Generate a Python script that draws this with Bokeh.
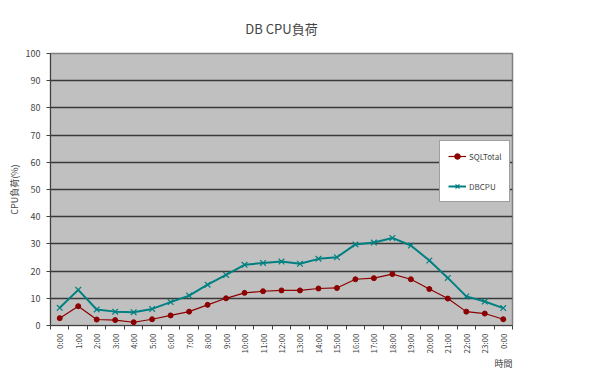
import math
from bokeh.plotting import figure
from bokeh.models import (Range1d, FixedTicker, Legend, LegendItem, Title, ColumnDataSource)
from bokeh.embed import file_html
from bokeh.resources import INLINE

hours = ["0:00", "1:00", "2:00", "3:00", "4:00", "5:00", "6:00", "7:00", "8:00", "9:00",
         "10:00", "11:00", "12:00", "13:00", "14:00", "15:00", "16:00", "17:00", "18:00",
         "19:00", "20:00", "21:00", "22:00", "23:00", "0:00"]
sql_total = [2.7, 7.1, 2.2, 2.0, 1.2, 2.3, 3.7, 5.1, 7.6, 10.0, 12.0, 12.6, 12.9, 12.9, 13.6,
             13.8, 17.0, 17.4, 18.9, 17.0, 13.4, 9.9, 5.1, 4.4, 2.3]
db_cpu = [6.5, 13.1, 5.9, 5.1, 4.9, 6.1, 8.6, 11.0, 15.0, 18.6, 22.3, 23.0, 23.5, 22.7, 24.5,
          25.1, 29.8, 30.5, 32.2, 29.4, 23.9, 17.5, 10.7, 8.8, 6.4]
y_ticks = list(range(0, 101, 10))

x = list(range(len(hours)))
src = ColumnDataSource(dict(x=x, sql=sql_total, db=db_cpu))

FONT = "Noto Sans CJK JP"

p = figure(width=590, height=372, output_backend="svg", toolbar_location=None,
           x_range=Range1d(-0.5, len(hours) - 0.5), y_range=Range1d(0, 100),
           min_border_left=50, min_border_right=78, min_border_top=53, min_border_bottom=47)

p.title.text = "DB CPU負荷"
p.title.align = "center"
p.title.text_font = FONT
p.title.text_font_size = "13px"
p.title.text_font_style = "normal"
p.title.standoff = 32

p.background_fill_color = "#C0C0C0"
p.border_fill_color = "white"
p.outline_line_color = "#808080"
p.outline_line_width = 1.5

p.xgrid.visible = False
p.ygrid.ticker = FixedTicker(ticks=y_ticks)
p.ygrid.grid_line_color = "#3a3a3a"
p.ygrid.grid_line_width = 1.5

# x axis
p.xaxis.ticker = FixedTicker(ticks=x, minor_ticks=[i - 0.5 for i in range(len(hours) + 1)])
p.xaxis.major_label_overrides = {i: h for i, h in enumerate(hours)}
p.xaxis.major_label_orientation = math.pi / 2
p.xaxis.major_tick_line_color = None
p.xaxis.minor_tick_out = 4
p.xaxis.minor_tick_in = 0
p.xaxis.minor_tick_line_color = "#404040"
p.xaxis.axis_line_color = "#404040"
p.xaxis.major_label_text_font = FONT
p.xaxis.major_label_text_font_size = "8px"
p.xaxis.major_label_standoff = 2

# y axis
p.yaxis.ticker = FixedTicker(ticks=y_ticks)
p.yaxis.minor_tick_line_color = None
p.yaxis.major_tick_out = 4
p.yaxis.major_tick_in = 0
p.yaxis.major_tick_line_color = "#404040"
p.yaxis.axis_line_color = "#404040"
p.yaxis.major_label_text_font = FONT
p.yaxis.major_label_text_font_size = "9px"
p.yaxis.major_label_standoff = 6
p.yaxis.axis_label = "CPU負荷(%)"
p.yaxis.axis_label_text_font = FONT
p.yaxis.axis_label_text_font_size = "9px"
p.yaxis.axis_label_text_font_style = "normal"
p.yaxis.axis_label_standoff = 2

r1l = p.line("x", "sql", source=src, line_color="#8B0000", line_width=1.2)
r1m = p.scatter("x", "sql", source=src, marker="circle", size=5,
                fill_color="#8B0000", line_color="#8B0000")
r2l = p.line("x", "db", source=src, line_color="#008080", line_width=2)
r2m = p.scatter("x", "db", source=src, marker="x", size=8, line_color="#008080",
                line_width=1.2)

legend = Legend(items=[LegendItem(label="SQLTotal", renderers=[r1l, r1m]),
                       LegendItem(label="DBCPU", renderers=[r2l, r2m])],
                location=(389, 123), orientation="vertical",
                label_text_font=FONT, label_text_font_size="8px",
                glyph_width=18, glyph_height=14, spacing=16, padding=8, margin=0,
                label_standoff=3, border_line_color="#404040", border_line_width=1.2,
                background_fill_color="white", background_fill_alpha=1)
p.add_layout(legend, "center")

xlab = Title(text="時間", align="right", offset=0, vertical_align="top", standoff=0,
             text_font=FONT, text_font_size="9px", text_font_style="normal")
p.add_layout(xlab, "below")

open("out.html", "w").write(file_html(p, INLINE))
